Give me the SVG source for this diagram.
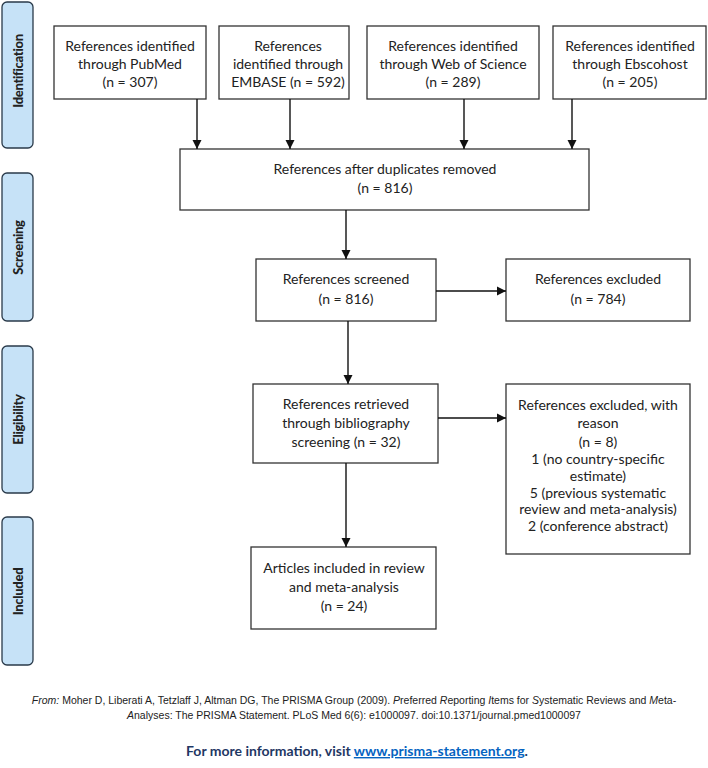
<svg xmlns="http://www.w3.org/2000/svg" width="708" height="768" viewBox="0 0 708 768">
<defs>
<marker id="ah" markerWidth="10" markerHeight="10" refX="9" refY="5" orient="auto" markerUnits="userSpaceOnUse">
<path d="M0,0.5 L9,5 L0,9.5 Z" fill="#111"/>
</marker>
<style>
.box{fill:#fff;stroke:#333;stroke-width:1.3}
.side{fill:#c6e2f7;stroke:#2a3a4a;stroke-width:1.3}
.t{font-family:Lato,"Open Sans","Liberation Sans",sans-serif;font-size:14px;fill:#222;text-anchor:middle}
.s{font-family:Lato,"Open Sans","Liberation Sans",sans-serif;font-size:13px;font-weight:900;letter-spacing:-0.3px;fill:#222;text-anchor:middle}
.c{stroke:#111;stroke-width:1.4;fill:none;marker-end:url(#ah)}
.f{font-family:"Liberation Sans",Arial,sans-serif;font-size:10.5px;fill:#222;text-anchor:middle}
.m{font-family:Lato,"Open Sans",sans-serif;font-size:14px;font-weight:bold;fill:#1f3864;text-anchor:middle}
</style>
</defs>
<rect width="708" height="768" fill="#fff"/>
<g id="phase-identification"><rect class="side" x="2" y="2" width="31" height="146" rx="5"/><text class="s" transform="translate(22.5,71) rotate(-90)">Identification</text></g>
<g id="phase-screening"><rect class="side" x="2" y="173" width="31" height="148" rx="5"/><text class="s" transform="translate(22.5,247.5) rotate(-90)">Screening</text></g>
<g id="phase-eligibility"><rect class="side" x="2" y="346" width="31" height="147" rx="5"/><text class="s" transform="translate(22.5,419.5) rotate(-90)">Eligibility</text></g>
<g id="phase-included"><rect class="side" x="2" y="517" width="31" height="148" rx="5"/><text class="s" transform="translate(22.5,591.5) rotate(-90)">Included</text></g>

<g id="pubmed"><rect class="box" x="54" y="26" width="152" height="73"/>
<text class="t" x="130" y="51">References identified</text><text class="t" x="130" y="69">through PubMed</text><text class="t" x="130" y="87">(n = 307)</text></g>
<g id="embase"><rect class="box" x="219" y="26" width="130" height="73"/>
<text class="t" x="288" y="51">References</text><text class="t" x="288" y="69">identified through</text><text class="t" x="288" y="87">EMBASE (n = 592)</text></g>
<g id="wos"><rect class="box" x="367" y="26" width="172" height="73"/>
<text class="t" x="453" y="51">References identified</text><text class="t" x="453" y="69">through Web of Science</text><text class="t" x="453" y="87">(n = 289)</text></g>
<g id="ebscohost"><rect class="box" x="553" y="26" width="153" height="73"/>
<text class="t" x="630" y="51">References identified</text><text class="t" x="630" y="69">through Ebscohost</text><text class="t" x="630" y="87">(n = 205)</text></g>
<g id="dedup"><rect class="box" x="180" y="149" width="409" height="61"/>
<text class="t" x="385" y="174">References after duplicates removed</text><text class="t" x="385" y="193">(n = 816)</text></g>
<g id="screened"><rect class="box" x="256" y="259" width="180" height="62"/>
<text class="t" x="346" y="284">References screened</text><text class="t" x="346" y="304">(n = 816)</text></g>
<g id="excluded"><rect class="box" x="506" y="259" width="184" height="62"/>
<text class="t" x="598" y="284">References excluded</text><text class="t" x="598" y="304">(n = 784)</text></g>
<g id="retrieved"><rect class="box" x="253" y="384" width="185" height="79"/>
<text class="t" x="346" y="409">References retrieved</text><text class="t" x="346" y="428">through bibliography</text><text class="t" x="346" y="447">screening (n = 32)</text></g>
<g id="excluded-reason"><rect class="box" x="506" y="384" width="184" height="170"/>
<text class="t" x="598" y="410">References excluded, with</text><text class="t" x="598" y="428">reason</text><text class="t" x="598" y="447">(n = 8)</text>
<text class="t" x="598" y="464">1 (no country-specific</text><text class="t" x="598" y="481">estimate)</text><text class="t" x="598" y="498">5 (previous systematic</text><text class="t" x="598" y="514">review and meta-analysis)</text><text class="t" x="598" y="531">2 (conference abstract)</text></g>
<g id="included"><rect class="box" x="251" y="547" width="185" height="82"/>
<text class="t" x="344" y="573">Articles included in review</text><text class="t" x="344" y="592">and meta-analysis</text><text class="t" x="344" y="611">(n = 24)</text></g>

<g id="connectors">
<line class="c" x1="197" y1="99" x2="197" y2="149"/>
<line class="c" x1="290" y1="99" x2="290" y2="149"/>
<line class="c" x1="464" y1="99" x2="464" y2="149"/>
<line class="c" x1="572" y1="99" x2="572" y2="149"/>
<line class="c" x1="346" y1="210" x2="346" y2="259"/>
<line class="c" x1="436" y1="291" x2="506" y2="291"/>
<line class="c" x1="348" y1="321" x2="348" y2="384"/>
<line class="c" x1="438" y1="418" x2="506" y2="418"/>
<line class="c" x1="346" y1="463" x2="346" y2="547"/>
</g>

<g id="footer">
<text class="f" x="354" y="704"><tspan font-style="italic">From:</tspan>  Moher D, Liberati A, Tetzlaff J, Altman DG, The PRISMA Group (2009). <tspan font-style="italic">P</tspan>referred <tspan font-style="italic">R</tspan>eporting <tspan font-style="italic">I</tspan>tems for <tspan font-style="italic">S</tspan>ystematic Reviews and <tspan font-style="italic">M</tspan>eta-</text>
<text class="f" x="354" y="719"><tspan font-style="italic">A</tspan>nalyses: The PRISMA Statement. PLoS Med 6(6): e1000097. doi:10.1371/journal.pmed1000097</text>
<text class="m" x="357" y="756">For more information, visit <tspan fill="#0563c1" text-decoration="underline">www.prisma-statement.org</tspan>.</text>
</g>
</svg>
